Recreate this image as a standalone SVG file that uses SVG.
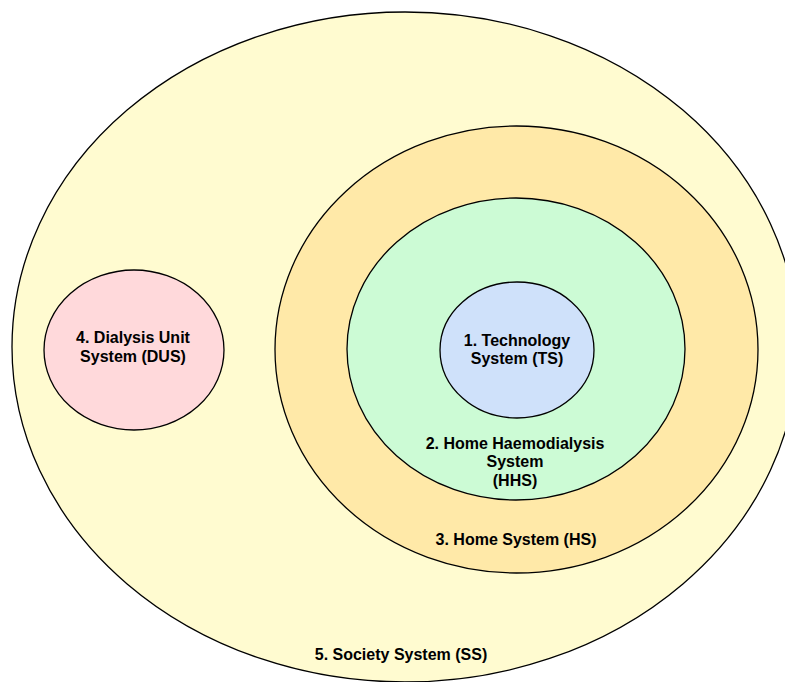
<svg xmlns="http://www.w3.org/2000/svg" width="785" height="682" viewBox="0 0 785 682">
<style>
.e{stroke:#000;stroke-width:1.3}
.t{font-family:"Liberation Sans",Arial,sans-serif;font-weight:bold;font-size:16px;fill:#000;text-anchor:middle}
</style>
<rect width="785" height="682" fill="#fff"/>
<g id="society">
<ellipse class="e" cx="405" cy="347" rx="393" ry="335" fill="#fffbd0"/>
<text class="t" x="401" y="660">5. Society System (SS)</text>
</g>
<g id="home">
<ellipse class="e" cx="516.5" cy="349.5" rx="241.5" ry="223.5" fill="#ffe9a8"/>
<text class="t" x="516" y="545">3. Home System (HS)</text>
</g>
<g id="hhs">
<ellipse class="e" cx="516" cy="349" rx="169" ry="151" fill="#ccfbd5"/>
<text class="t" x="515" y="449">2. Home Haemodialysis</text>
<text class="t" x="515" y="467">System</text>
<text class="t" x="515" y="486">(HHS)</text>
</g>
<g id="tech">
<ellipse class="e" cx="517" cy="350" rx="77" ry="68" fill="#cfe1fa"/>
<text class="t" x="517" y="346">1. Technology</text>
<text class="t" x="517" y="364">System (TS)</text>
</g>
<g id="dus">
<ellipse class="e" cx="134" cy="350" rx="90" ry="80" fill="#ffd9db"/>
<text class="t" x="133" y="343">4. Dialysis Unit</text>
<text class="t" x="133" y="362">System (DUS)</text>
</g>
<g id="connectors"/>
</svg>
